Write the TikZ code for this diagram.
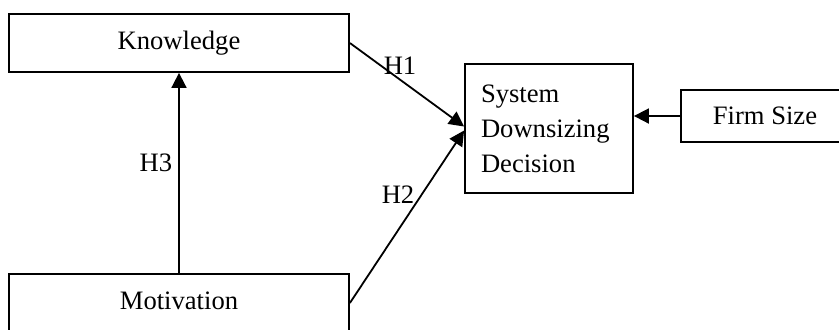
\documentclass[tikz,border=0pt]{standalone}
\usepackage{fontspec}
\setmainfont{Liberation Serif}
\usetikzlibrary{arrows.meta,positioning}

\begin{document}
\begin{tikzpicture}[
  x=0.5pt,y=-0.5pt,
  font=\fontsize{13.3}{17.5}\selectfont,
  factor/.style={draw,line width=0.9pt,inner sep=0pt,minimum width=170pt,minimum height=29pt},
  outcome/.style={draw,line width=0.9pt,align=left,text width=68pt,inner xsep=8pt,minimum height=64.5pt},
  arrow/.style={-{Triangle[length=7.5pt,width=7.5pt]},line width=0.9pt}
]
  \useasboundingbox (0,0) rectangle (839,329);
  \clip (0,0) rectangle (839,329);

  \node[factor] (Know) at (179,43) {Knowledge};
  \node[factor] (Motiv) at (179,303) {\raisebox{2pt}{Motivation}};
  \node[outcome] (SDD) at (549,128.5) {System\\Downsizing\\Decision};
  \node[factor,minimum width=84pt,minimum height=26pt] (Size) at (765,116) {Firm Size};

  \draw[arrow] (Motiv) -- (Know);
  \draw[arrow] (Know.east) -- ([yshift=1pt]SDD.west);
  \draw[arrow] (Motiv.east) -- ([yshift=-1pt]SDD.west);
  \draw[arrow] (Size.west) -- (Size.west -| SDD.east);

  \node (H1) at (400,66) {H1};
  \node (H2) at (398,195) {H2};
  \node (H3) at (156,163) {H3};
\end{tikzpicture}
\end{document}
